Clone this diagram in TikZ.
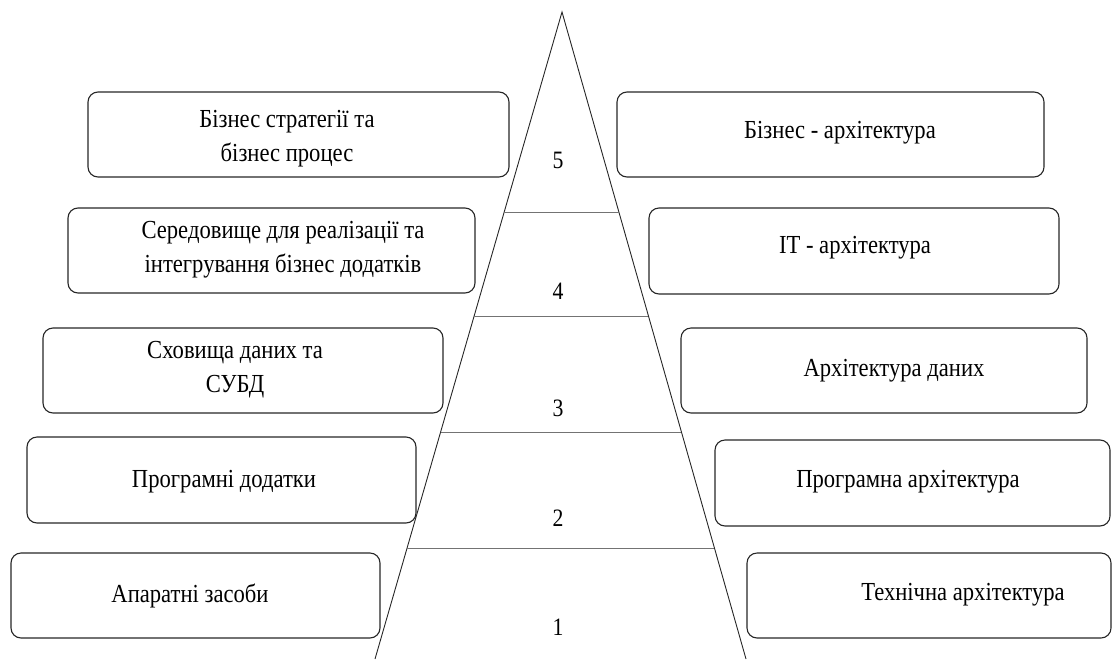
\documentclass[tikz,border=0pt]{standalone}
\usepackage{fontspec}
\setmainfont{Liberation Serif}[FakeStretch=0.87]
\usetikzlibrary{calc}
\begin{document}
\begin{tikzpicture}[x=1pt,y=-1pt,
  box/.style={draw=black!85,line width=1.1pt,rounded corners=10pt,inner sep=0pt},
  lbl/.style={align=center,font=\fontsize{26}{34}\selectfont,inner sep=0pt},
  num/.style={font=\fontsize{25}{28}\selectfont,inner sep=0pt},
  tri/.style={draw=black!85,line width=0.9pt},
  lev/.style={draw=black!55,line width=0.9pt}]
\useasboundingbox (0,0) rectangle (1113,659);
% triangle
\coordinate (apex) at (562,12);
\coordinate (bl) at (375,659);
\coordinate (br) at (746,659);
\draw[tri] (bl) -- (apex) -- (br);
\foreach \t [count=\i] in {0.3091,0.4699,0.6491,0.8284}{
  \coordinate (ll\i) at ($(apex)!\t!(bl)$);
  \coordinate (lr\i) at ($(apex)!\t!(br)$);
  \draw[lev] (ll\i) -- (lr\i);
}
% numbers
\node[num] (n5) at (558,160) {5};
\node[num] (n4) at (558,291) {4};
\node[num] (n3) at (558,408) {3};
\node[num] (n2) at (558,518) {2};
\node[num] (n1) at (558,627) {1};
% left boxes
\draw[box] (88,92) rectangle (509,177);
\node[lbl] (tl1) at (287,139) {Бізнес стратегії та\\бізнес процес};
\draw[box] (68,208) rectangle (475,293);
\node[lbl] (tl2) at (283,250) {Середовище для реалізації та\\інтегрування бізнес додатків};
\draw[box] (43,328) rectangle (443,413);
\node[lbl] (tl3) at (235,370) {Сховища даних та\\СУБД};
\draw[box] (27,437) rectangle (416,523);
\node[lbl] (tl4) at (224,482) {Програмні додатки};
\draw[box] (11,553) rectangle (380,638);
\node[lbl] (tl5) at (190,596) {Апаратні засоби};
% right boxes
\draw[box] (617,92) rectangle (1044,177);
\node[lbl] (tr1) at (840,133) {Бізнес - архітектура};
\draw[box] (649,208) rectangle (1059,294);
\node[lbl] (tr2) at (855,248) {IT - архітектура};
\draw[box] (681,328) rectangle (1087,413);
\node[lbl] (tr3) at (894,371) {Архітектура даних};
\draw[box] (715,440) rectangle (1110,526);
\node[lbl] (tr4) at (908,482) {Програмна архітектура};
\draw[box] (747,553) rectangle (1111,638);
\node[lbl] (tr5) at (963,595) {Технічна архітектура};
\end{tikzpicture}
\end{document}
